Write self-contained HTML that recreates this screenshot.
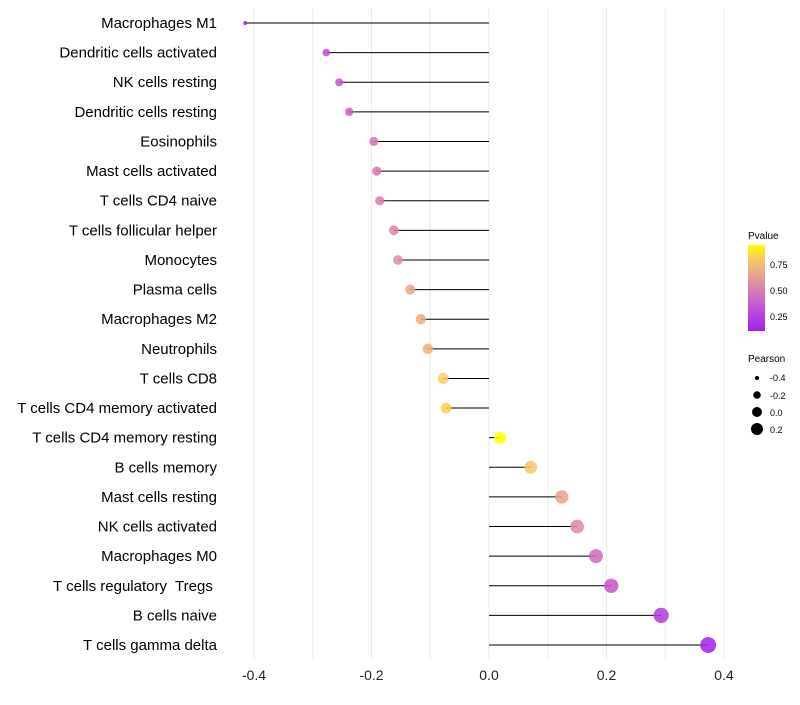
<!DOCTYPE html>
<html><head><meta charset="utf-8"><style>
body{margin:0;background:#fff;font-family:"Liberation Sans",sans-serif}
svg text{font-family:"Liberation Sans",sans-serif;white-space:pre}
</style></head><body>
<svg id="chart" width="800" height="700" xmlns="http://www.w3.org/2000/svg">
<defs><linearGradient id="pg" x1="0" y1="1" x2="0" y2="0">
<stop offset="0" stop-color="#a020f0"/><stop offset="0.35" stop-color="#c865c8"/><stop offset="0.6" stop-color="#e29a9a"/><stop offset="0.82" stop-color="#f6c46a"/><stop offset="1" stop-color="#ffff00"/></linearGradient></defs>
<g id="grid"></g>
<g id="marks"></g>
<g id="labels"></g>
<g id="xt"></g>
<g>
<text x="748" y="239" font-size="10">Pvalue</text>
<rect x="748" y="245" width="17" height="86" fill="url(#pg)"/>
<text x="770" y="268" font-size="9">0.75</text>
<text x="770" y="294" font-size="9">0.50</text>
<text x="770" y="320" font-size="9">0.25</text>
</g>
<g>
<text x="748" y="362" font-size="10">Pearson</text>
<circle cx="757" cy="378" r="2" fill="#000"/><text x="770" y="381" font-size="9">-0.4</text>
<circle cx="757" cy="395" r="3.8" fill="#000"/><text x="770" y="399" font-size="9">-0.2</text>
<circle cx="757" cy="412" r="5" fill="#000"/><text x="770" y="416" font-size="9">0.0</text>
<circle cx="757" cy="429" r="6" fill="#000"/><text x="770" y="433" font-size="9">0.2</text>
</g>
</svg>
<script>
const categories=["Macrophages M1","Dendritic cells activated","NK cells resting","Dendritic cells resting","Eosinophils","Mast cells activated","T cells CD4 naive","T cells follicular helper","Monocytes","Plasma cells","Macrophages M2","Neutrophils","T cells CD8","T cells CD4 memory activated","T cells CD4 memory resting","B cells memory","Mast cells resting","NK cells activated","Macrophages M0","T cells regulatory  Tregs ","B cells naive","T cells gamma delta"];
const pearson=[-0.415,-0.277,-0.255,-0.238,-0.196,-0.191,-0.186,-0.162,-0.155,-0.134,-0.116,-0.104,-0.078,-0.073,0.019,0.071,0.124,0.150,0.182,0.208,0.293,0.373];
const pvalue=[0.1,0.3,0.33,0.37,0.45,0.47,0.5,0.53,0.56,0.65,0.7,0.72,0.82,0.83,0.93,0.8,0.65,0.55,0.42,0.33,0.2,0.1];
const xticks=[-0.4,-0.2,0.0,0.2,0.4];
const NS="http://www.w3.org/2000/svg";
const x=v=>489+v*587.5;
const y=i=>23+i*29.62;
function mk(t,a,p){const e=document.createElementNS(NS,t);for(const k in a)e.setAttribute(k,a[k]);p.appendChild(e);return e;}
const stops=[[0.096,[160,32,240]],[0.35,[200,90,200]],[0.6,[226,150,150]],[0.8,[246,196,106]],[0.93,[255,255,0]]];
function col(p){if(p<=stops[0][0])return 'rgb('+stops[0][1]+')';for(let i=1;i<stops.length;i++){if(p<=stops[i][0]){const a=stops[i-1],b=stops[i],t=(p-a[0])/(b[0]-a[0]);return 'rgb('+a[1].map((c,j)=>Math.round(c+(b[1][j]-c)*t)).join(',')+')';}}return 'rgb(255,255,0)';}
function rad(v){const a=4+(v+0.415)/(0.788)*(64-4);return Math.sqrt(Math.max(a,1));}
const g=document.getElementById('grid'),m=document.getElementById('marks'),lb=document.getElementById('labels'),xt=document.getElementById('xt');
for(let v=-0.4;v<=0.41;v+=0.1){const l=mk('line',{x1:x(v),x2:x(v),y1:8,y2:660,stroke:'#ebebeb','stroke-width':1},g);

}
xticks.forEach(v=>{const t=mk('text',{x:x(v),y:680,'font-size':14,'text-anchor':'middle',fill:'#222'},xt);t.textContent=v.toFixed(1);

});
categories.forEach((c,i)=>{
const t=mk('text',{x:217,y:y(i)+5,'font-size':15,'text-anchor':'end',fill:'#000'},lb);t.textContent=c;


const l=mk('line',{x1:x(pearson[i]),x2:x(0),y1:y(i),y2:y(i),stroke:'#000','stroke-width':1},m);


const d=mk('circle',{cx:x(pearson[i]),cy:y(i),r:rad(pearson[i]),fill:col(pvalue[i]),'fill-opacity':0.85},m);


});
</script>
</body></html>
